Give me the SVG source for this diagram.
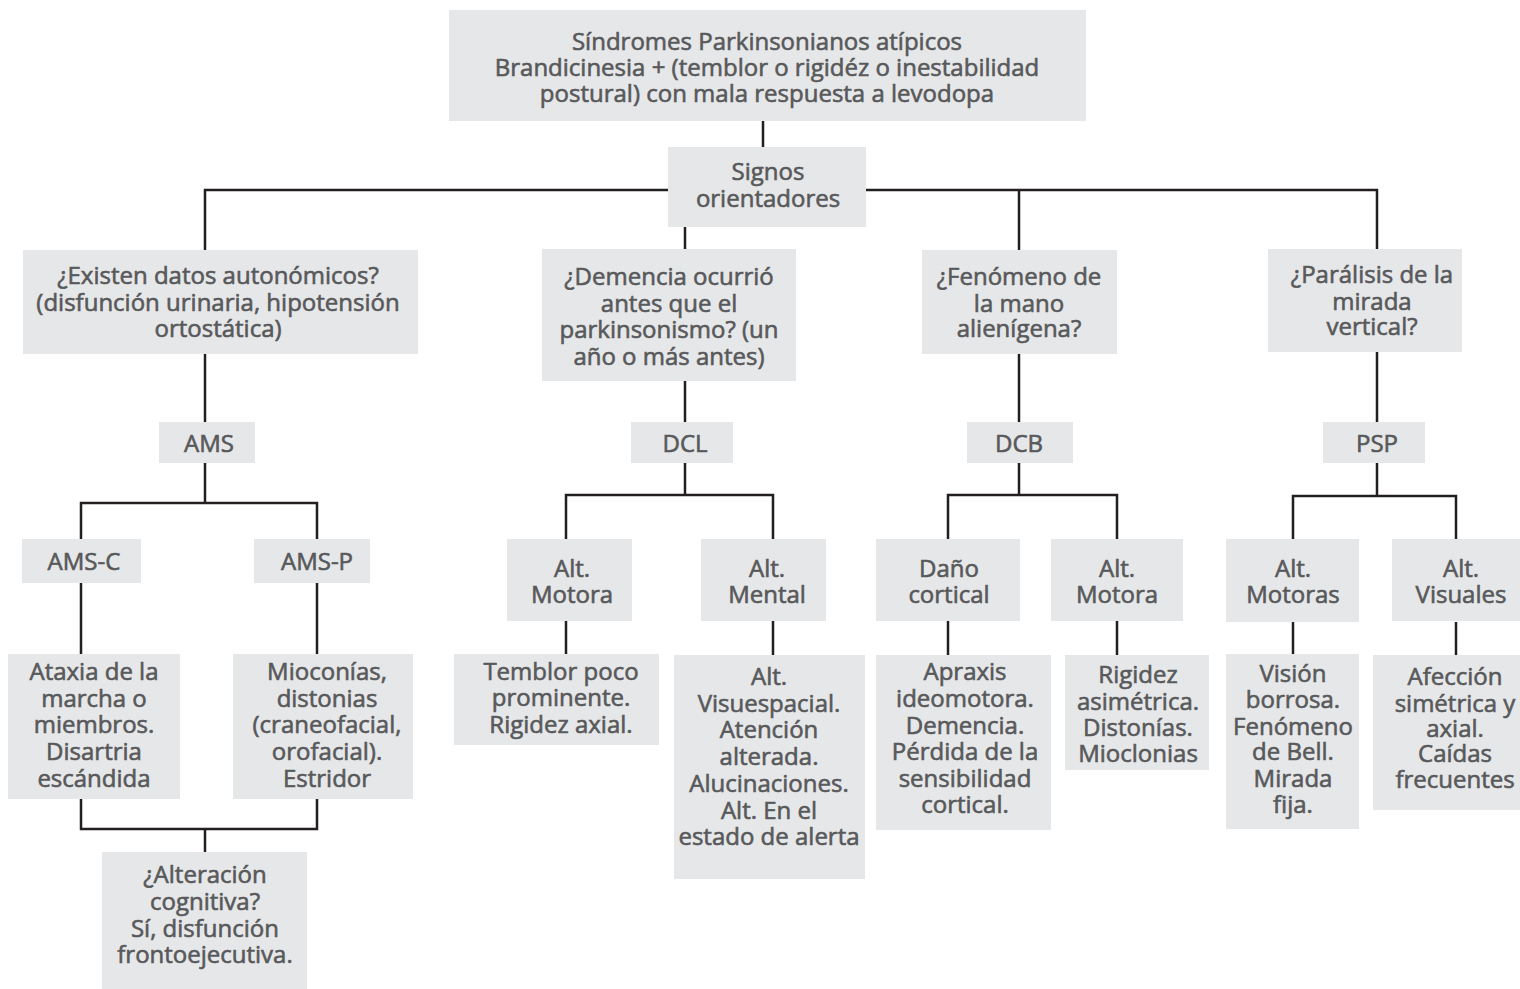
<svg xmlns="http://www.w3.org/2000/svg" width="1520" height="989" viewBox="0 0 1520 989">
<style>
.b{fill:#e6e7e8}
.t{font-family:"Open Sans","Noto Sans","Liberation Sans",sans-serif;font-size:24px;fill:#58595b;stroke:#58595b;stroke-width:0.6;text-anchor:middle}
.c{fill:none;stroke:#231f20;stroke-width:2.5}
</style>
<rect width="1520" height="989" fill="#ffffff"/>
<g id="connectors" class="c">
<path d="M763,121 V147"/>
<path d="M205,250 V190 H1377 V249"/>
<path d="M685,226 V249"/>
<path d="M1019,190 V250"/>
<path d="M205,354 V422"/>
<path d="M205,463 V503"/>
<path d="M81,539 V503 H317 V539"/>
<path d="M81,583 V654"/>
<path d="M317,583 V654"/>
<path d="M81,799 V829 H317 V799"/>
<path d="M205,829 V852"/>
<path d="M685,381 V422"/>
<path d="M685,463 V495"/>
<path d="M566,539 V495 H773 V539"/>
<path d="M566,621 V654"/>
<path d="M773,621 V655"/>
<path d="M1019,354 V422"/>
<path d="M1019,463 V495"/>
<path d="M948,539 V495 H1117 V539"/>
<path d="M948,621 V655"/>
<path d="M1117,621 V655"/>
<path d="M1377,352 V422"/>
<path d="M1377,463 V496"/>
<path d="M1293,539 V496 H1456 V539"/>
<path d="M1293,622 V654"/>
<path d="M1456,622 V655"/>
</g>
<g id="n-top"><rect class="b" x="449" y="10" width="637" height="111"/>
<text class="t" x="767"><tspan x="767" y="50">Síndromes Parkinsonianos atípicos</tspan><tspan x="767" y="76">Brandicinesia + (temblor o rigidéz o inestabilidad</tspan><tspan x="767" y="102">postural) con mala respuesta a levodopa</tspan></text></g>
<g id="n-signos"><rect class="b" x="668" y="147" width="198" height="80"/>
<text class="t"><tspan x="768" y="180">Signos</tspan><tspan x="768" y="207">orientadores</tspan></text></g>
<g id="n-existen"><rect class="b" x="23" y="250" width="395" height="104"/>
<text class="t"><tspan x="218" y="284">¿Existen datos autonómicos?</tspan><tspan x="218" y="311">(disfunción urinaria, hipotensión</tspan><tspan x="218" y="337">ortostática)</tspan></text></g>
<g id="n-ams"><rect class="b" x="159" y="422" width="96" height="41"/>
<text class="t" x="209" y="452">AMS</text></g>
<g id="n-amsc"><rect class="b" x="22" y="539" width="119" height="44"/>
<text class="t" x="84" y="570">AMS-C</text></g>
<g id="n-amsp"><rect class="b" x="254" y="539" width="116" height="44"/>
<text class="t" x="317" y="570">AMS-P</text></g>
<g id="n-ataxia"><rect class="b" x="8" y="654" width="172" height="145"/>
<text class="t"><tspan x="94" y="680">Ataxia de la</tspan><tspan x="94" y="707">marcha o</tspan><tspan x="94" y="733">miembros.</tspan><tspan x="94" y="760">Disartria</tspan><tspan x="94" y="787">escándida</tspan></text></g>
<g id="n-mioconias"><rect class="b" x="233" y="654" width="180" height="145"/>
<text class="t"><tspan x="327" y="680">Mioconías,</tspan><tspan x="327" y="707">distonias</tspan><tspan x="327" y="733">(craneofacial,</tspan><tspan x="327" y="760">orofacial).</tspan><tspan x="327" y="787">Estridor</tspan></text></g>
<g id="n-alteracion"><rect class="b" x="102" y="852" width="205" height="137"/>
<text class="t"><tspan x="205" y="883">¿Alteración</tspan><tspan x="205" y="910">cognitiva?</tspan><tspan x="205" y="937">Sí, disfunción</tspan><tspan x="205" y="963">frontoejecutiva.</tspan></text></g>
<g id="n-demencia"><rect class="b" x="542" y="249" width="254" height="132"/>
<text class="t"><tspan x="669" y="285">¿Demencia ocurrió</tspan><tspan x="669" y="312">antes que el</tspan><tspan x="669" y="338">parkinsonismo? (un</tspan><tspan x="669" y="365">año o más antes)</tspan></text></g>
<g id="n-dcl"><rect class="b" x="631" y="422" width="102" height="41"/>
<text class="t" x="685" y="452">DCL</text></g>
<g id="n-dcl-motora"><rect class="b" x="507" y="539" width="125" height="82"/>
<text class="t"><tspan x="572" y="577">Alt.</tspan><tspan x="572" y="603">Motora</tspan></text></g>
<g id="n-dcl-mental"><rect class="b" x="701" y="539" width="125" height="82"/>
<text class="t"><tspan x="767" y="577">Alt.</tspan><tspan x="767" y="603">Mental</tspan></text></g>
<g id="n-temblor"><rect class="b" x="454" y="654" width="205" height="91"/>
<text class="t"><tspan x="561" y="680">Temblor poco</tspan><tspan x="561" y="706">prominente.</tspan><tspan x="561" y="733">Rigidez axial.</tspan></text></g>
<g id="n-visuespacial"><rect class="b" x="674" y="655" width="191" height="224"/>
<text class="t"><tspan x="769" y="685">Alt.</tspan><tspan x="769" y="712">Visuespacial.</tspan><tspan x="769" y="738">Atención</tspan><tspan x="769" y="765">alterada.</tspan><tspan x="769" y="792">Alucinaciones.</tspan><tspan x="769" y="819">Alt. En el</tspan><tspan x="769" y="845">estado de alerta</tspan></text></g>
<g id="n-fenomeno"><rect class="b" x="922" y="250" width="195" height="104"/>
<text class="t"><tspan x="1019" y="285">¿Fenómeno de</tspan><tspan x="1019" y="312">la mano</tspan><tspan x="1019" y="337">alienígena?</tspan></text></g>
<g id="n-dcb"><rect class="b" x="967" y="422" width="106" height="41"/>
<text class="t" x="1019" y="452">DCB</text></g>
<g id="n-dano"><rect class="b" x="876" y="539" width="144" height="82"/>
<text class="t"><tspan x="949" y="577">Daño</tspan><tspan x="949" y="603">cortical</tspan></text></g>
<g id="n-dcb-motora"><rect class="b" x="1051" y="539" width="132" height="82"/>
<text class="t"><tspan x="1117" y="577">Alt.</tspan><tspan x="1117" y="603">Motora</tspan></text></g>
<g id="n-apraxis"><rect class="b" x="876" y="655" width="175" height="175"/>
<text class="t"><tspan x="965" y="680">Apraxis</tspan><tspan x="965" y="707">ideomotora.</tspan><tspan x="965" y="734">Demencia.</tspan><tspan x="965" y="760">Pérdida de la</tspan><tspan x="965" y="787">sensibilidad</tspan><tspan x="965" y="813">cortical.</tspan></text></g>
<g id="n-rigidez"><rect class="b" x="1065" y="655" width="144" height="115"/>
<text class="t"><tspan x="1138" y="683">Rigidez</tspan><tspan x="1138" y="710">asimétrica.</tspan><tspan x="1138" y="736">Distonías.</tspan><tspan x="1138" y="762">Mioclonias</tspan></text></g>
<g id="n-paralisis"><rect class="b" x="1268" y="249" width="194" height="103"/>
<text class="t"><tspan x="1372" y="283">¿Parálisis de la</tspan><tspan x="1372" y="310">mirada</tspan><tspan x="1372" y="335">vertical?</tspan></text></g>
<g id="n-psp"><rect class="b" x="1323" y="422" width="102" height="41"/>
<text class="t" x="1377" y="452">PSP</text></g>
<g id="n-motoras"><rect class="b" x="1226" y="539" width="133" height="83"/>
<text class="t"><tspan x="1293" y="577">Alt.</tspan><tspan x="1293" y="603">Motoras</tspan></text></g>
<g id="n-visuales"><rect class="b" x="1392" y="539" width="140" height="82"/>
<text class="t"><tspan x="1461" y="577">Alt.</tspan><tspan x="1461" y="603">Visuales</tspan></text></g>
<g id="n-vision"><rect class="b" x="1226" y="654" width="133" height="175"/>
<text class="t"><tspan x="1293" y="682">Visión</tspan><tspan x="1293" y="708">borrosa.</tspan><tspan x="1293" y="735">Fenómeno</tspan><tspan x="1293" y="760">de Bell.</tspan><tspan x="1293" y="787">Mirada</tspan><tspan x="1293" y="813">fija.</tspan></text></g>
<g id="n-afeccion"><rect class="b" x="1373" y="655" width="160" height="155"/>
<text class="t"><tspan x="1455" y="685">Afección</tspan><tspan x="1455" y="712">simétrica y</tspan><tspan x="1455" y="737">axial.</tspan><tspan x="1455" y="762">Caídas</tspan><tspan x="1455" y="788">frecuentes</tspan></text></g>
</svg>
